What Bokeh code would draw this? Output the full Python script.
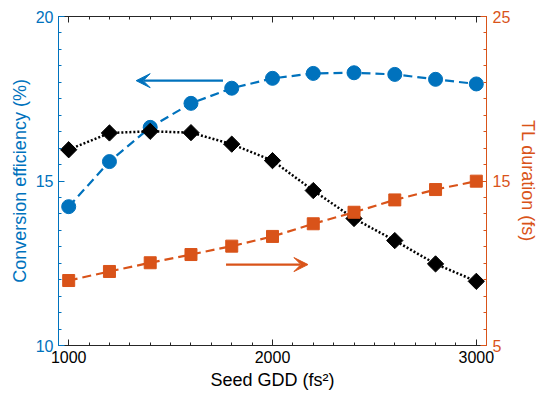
import math
from bokeh.plotting import figure
from bokeh.models import (Range1d, LinearAxis, FixedTicker, Arrow, VeeHead, ColumnDataSource)
from bokeh.embed import file_html
from bokeh.resources import INLINE

# ---- data ----
gdd = [1000, 1200, 1400, 1600, 1800, 2000, 2200, 2400, 2600, 2800, 3000]
efficiency = [14.22, 15.59, 16.63, 17.36, 17.82, 18.12, 18.27, 18.29, 18.24, 18.09, 17.95]
efficiency2 = [15.95, 16.46, 16.51, 16.47, 16.12, 15.62, 14.71, 13.86, 13.19, 12.48, 11.95]
tl_duration = [8.95, 9.5, 10.03, 10.53, 11.04, 11.63, 12.4, 13.1, 13.85, 14.48, 14.99]

x_major = [1000, 2000, 3000]
x_minor = list(range(1000, 3001, 100))
yl_major = [10, 15, 20]
yl_minor = [10 + 0.5 * i for i in range(21)]
yr_major = [5, 15, 25]
yr_minor = list(range(5, 26))

BLUE = "#0072BD"
ORANGE = "#D95319"
FONT = "Liberation Sans"

src = ColumnDataSource(dict(x=gdd, eff=efficiency, eff2=efficiency2, tl=tl_duration))

p = figure(width=541, height=400, output_backend="svg", toolbar_location=None,
           x_range=Range1d(950, 3050), y_range=Range1d(10, 20),
           min_border_left=58, min_border_right=54, min_border_top=16, min_border_bottom=55,
           x_axis_location=None, y_axis_location=None)
p.extra_y_ranges = {"right": Range1d(5, 25)}
p.grid.visible = False
p.outline_line_color = None
p.background_fill_color = "white"
p.border_fill_color = "white"


def style_axis(ax, color, major, minor):
    ax.ticker = FixedTicker(ticks=major, minor_ticks=minor)
    ax.axis_line_color = color
    ax.axis_line_width = 1
    ax.major_tick_line_color = color
    ax.minor_tick_line_color = color
    ax.major_tick_in = 6
    ax.major_tick_out = 0
    ax.minor_tick_in = 3
    ax.minor_tick_out = 0
    ax.major_label_text_font = FONT
    ax.major_label_text_color = color
    ax.major_label_text_font_size = "16px"
    ax.axis_label_text_font = FONT
    ax.axis_label_text_font_style = "normal"
    ax.axis_label_text_color = color
    ax.axis_label_text_font_size = "18px"


xb = LinearAxis(axis_label="Seed GDD (fs²)")
style_axis(xb, "#262626", x_major, x_minor)
xb.major_label_text_color = "black"
xb.axis_label_text_color = "black"
xb.major_label_standoff = 5
xb.axis_label_standoff = 4
p.add_layout(xb, "below")

# top box edge: ticks only (no major ticks -> no labels)
xt_minor = LinearAxis(ticker=FixedTicker(ticks=[], minor_ticks=x_minor),
                      axis_line_color="#262626", minor_tick_line_color="#262626",
                      minor_tick_in=3, minor_tick_out=0, major_tick_in=0, major_tick_out=0)
p.add_layout(xt_minor, "above")
xt_major = LinearAxis(ticker=FixedTicker(ticks=[], minor_ticks=x_major),
                      axis_line_color="#262626", minor_tick_line_color="#262626",
                      minor_tick_in=6, minor_tick_out=0, major_tick_in=0, major_tick_out=0)
p.add_layout(xt_major, "above")

yl = LinearAxis(axis_label="Conversion efficiency (%)")
style_axis(yl, BLUE, yl_major, yl_minor)
yl.major_label_standoff = 5
yl.axis_label_standoff = 3
p.add_layout(yl, "left")

yr = LinearAxis(y_range_name="right", axis_label="TL duration (fs)")
style_axis(yr, ORANGE, yr_major, yr_minor)
yr.major_label_standoff = 6
yr.axis_label_standoff = 5
p.add_layout(yr, "right")

# blue: conversion efficiency
p.line("x", "eff", source=src, line_color=BLUE, line_width=2.2, line_dash="9 5")
p.scatter("x", "eff", source=src, marker="circle", size=14, fill_color=BLUE, line_color=BLUE)

# black dotted diamonds
p.line("x", "eff2", source=src, line_color="black", line_width=2.5, line_dash="2 2")
p.scatter("x", "eff2", source=src, marker="square", angle=math.pi / 4, size=11.5,
          fill_color="black", line_color="black")

# orange: TL duration
p.line("x", "tl", source=src, y_range_name="right", line_color=ORANGE, line_width=2.2, line_dash="9 5")
p.scatter("x", "tl", source=src, y_range_name="right", marker="square", size=12,
          fill_color=ORANGE, line_color=ORANGE)

# arrows indicating axes
p.add_layout(Arrow(x_start=1757, y_start=18.05, x_end=1331, y_end=18.05,
                   line_color=BLUE, line_width=2.2,
                   end=VeeHead(size=14, fill_color=BLUE, line_color=BLUE, line_width=1)))
p.add_layout(Arrow(x_start=1772, y_start=12.46, x_end=2174, y_end=12.46,
                   line_color=ORANGE, line_width=2.2,
                   end=VeeHead(size=14, fill_color=ORANGE, line_color=ORANGE, line_width=1)))

open("out.html", "w").write(file_html(p, INLINE))
